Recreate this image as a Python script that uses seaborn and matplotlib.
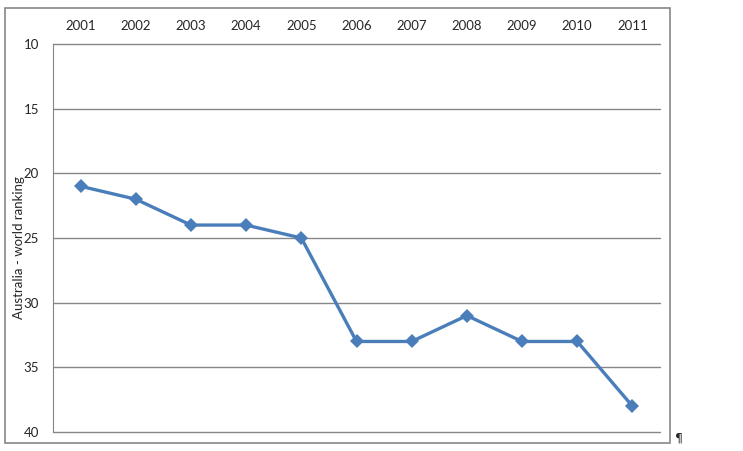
import seaborn as sns
import pandas as pd
import matplotlib.pyplot as plt
from matplotlib.patches import Rectangle

years = ['2001', '2002', '2003', '2004', '2005', '2006', '2007', '2008', '2009', '2010', '2011']
ranking = [21, 22, 24, 24, 25, 33, 33, 31, 33, 33, 38]
yticks = [10, 15, 20, 25, 30, 35, 40]

df = pd.DataFrame({'year': years, 'ranking': ranking})

sns.set_style('white')
plt.rcParams['font.family'] = ['Lato', 'DejaVu Sans']

fig = plt.figure(figsize=(7.43, 4.51), dpi=100)
# chart area border
fig.patches.append(Rectangle((5 / 743, 1 - 443 / 451), 665 / 743, 435 / 451,
                             transform=fig.transFigure, fill=False,
                             edgecolor='#868686', linewidth=1.2))
ax = fig.add_axes([53 / 743, 1 - 432 / 451, 607 / 743, 388 / 451])

x = list(range(len(years)))
sns.lineplot(x=x, y=df.ranking, ax=ax, color='#4A7EBB', linewidth=2.4,
             marker='D', markersize=7.5, markeredgewidth=0, zorder=3)

ax.set_xlim(-0.5, len(years) - 0.5)
ax.set_ylim(40, 10)
ax.set_yticks(yticks)
ax.set_yticklabels([str(v) for v in yticks], fontsize=9.5)
ax.set_xticks(x)
ax.set_xticklabels(years, fontsize=9.5)
ax.xaxis.tick_top()
ax.tick_params(axis='both', length=0, pad=10)
ax.tick_params(axis='x', pad=9)
for v in yticks:
    ax.axhline(v, color='#868686', linewidth=1, clip_on=False, zorder=1)
for s in ['top', 'right', 'bottom']:
    ax.spines[s].set_visible(False)
ax.spines['left'].set_color('#868686')
ax.set_xlabel('')
ax.set_ylabel('')

fig.text(19 / 743, 1 - 248 / 451, 'Australia - world ranking', fontsize=9.5,
         rotation=90, ha='center', va='center')
fig.text(675 / 743, 1 - 438 / 451, '\u00b6', fontsize=9, ha='left', va='center',
         family=['DejaVu Sans'])

fig.savefig('out.png', dpi=100)
